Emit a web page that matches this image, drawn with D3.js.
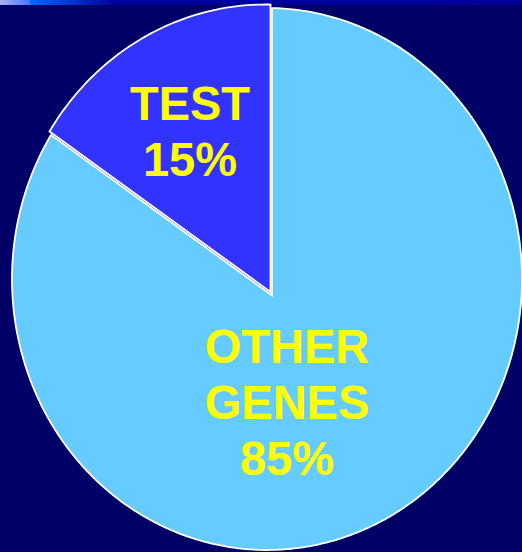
<!DOCTYPE html>
<html>
<head>
<meta charset="utf-8">
<script src="https://cdn.jsdelivr.net/npm/d3@7"></script>
<style>
  html, body { margin: 0; padding: 0; background: #000066; }
  svg { display: block; }
</style>
</head>
<body>
<svg id="chart" width="522" height="552"></svg>
<script>
// ---- data ----
const categories = ["OTHER GENES", "TEST"];
const values = [85, 15];
const labelLines = [["OTHER", "GENES", "85%"], ["TEST", "15%"]];
const colors = ["#66CCFF", "#3333FF"];

// ---- layout ----
const W = 522, H = 552;
const ellipse = { cx: 267, cy: 279, rx: 255, ry: 271 };
const apex = { x: 272, y: 295.5 };
const explode = [[0, 0], [-1.5, -3.5]];
const labelLayout = [{ x: 287, y: 363, dy: 53.8 }, { x: 190, y: 120, dy: 54.3 }];
const textScaleY = 1.04;

const svg = d3.select("#chart");
svg.append("rect").attr("width", W).attr("height", H).attr("fill", "#000066");

// top decorative bar
const defs = svg.append("defs");
const grad = defs.append("linearGradient").attr("id", "topbar")
  .attr("gradientUnits", "userSpaceOnUse").attr("x1", 0).attr("x2", W).attr("y1", 0).attr("y2", 0);
[[0, "#aab2f0"], [29 / W, "#4a78ff"], [31 / W, "#0066ff"], [115 / W, "#00009c"], [1, "#000099"]]
  .forEach(([o, c]) => grad.append("stop").attr("offset", o).attr("stop-color", c));
svg.append("rect").attr("x", 0).attr("y", 0).attr("width", W).attr("height", 5).attr("fill", "url(#topbar)");
svg.append("rect").attr("x", 115).attr("y", 0).attr("width", W - 115).attr("height", 1).attr("fill", "#0000aa").attr("opacity", 0.6);

// pie geometry via d3.pie
const pie = d3.pie().sort(null).value(d => d)(values);

function rayHit(P, theta, C) {
  const dx = Math.sin(theta), dy = -Math.cos(theta);
  const qx = (P[0] - C[0]) / ellipse.rx, qy = (P[1] - C[1]) / ellipse.ry;
  const wx = dx / ellipse.rx, wy = dy / ellipse.ry;
  const a = wx * wx + wy * wy, b = 2 * (qx * wx + qy * wy), c = qx * qx + qy * qy - 1;
  const t = (-b + Math.sqrt(b * b - 4 * a * c)) / (2 * a);
  return [P[0] + t * dx, P[1] + t * dy];
}

const line = d3.line();
const slices = pie.map((p, i) => {
  const off = explode[i];
  const P = [apex.x + off[0], apex.y + off[1]];
  const C = [ellipse.cx + off[0], ellipse.cy + off[1]];
  const n = Math.max(8, Math.ceil((p.endAngle - p.startAngle) / 0.01));
  const pts = [P];
  for (let k = 0; k <= n; k++) {
    const th = p.startAngle + (p.endAngle - p.startAngle) * k / n;
    pts.push(rayHit(P, th, C));
  }
  return { p, i, d: line(pts) + "Z" };
});

svg.append("g").selectAll("path").data(slices).join("path")
  .attr("d", s => s.d)
  .attr("fill", s => colors[s.i])
  .attr("stroke", "#ffffff")
  .attr("stroke-width", 1.8)
  .attr("stroke-linejoin", "miter");

// labels
const lg = svg.append("g");
pie.forEach((p, i) => {
  const L = labelLayout[i];
  const t = lg.append("text")
    .attr("transform", `translate(${L.x},${L.y}) scale(1,${textScaleY})`)
    .attr("text-anchor", "middle")
    .attr("fill", "#FFFF00")
    .attr("font-family", "'Liberation Sans', Arial, sans-serif")
    .attr("font-weight", "bold")
    .attr("font-size", 47);
  labelLines[i].forEach((s, k) => {
    t.append("tspan").attr("x", 0).attr("y", k * L.dy).text(s);
  });
});
</script>
</body>
</html>
